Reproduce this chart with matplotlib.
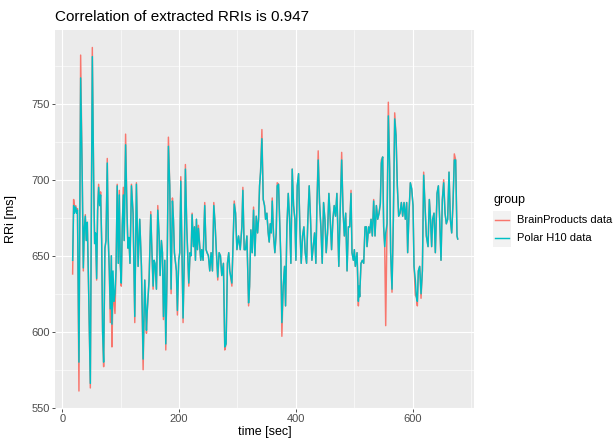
import matplotlib
matplotlib.use("Agg")
import matplotlib.pyplot as plt
from matplotlib.patches import Rectangle
from matplotlib.lines import Line2D

plt.rcParams['font.family'] = ['Liberation Sans', 'DejaVu Sans']

# Data: time (sec), RRI of both devices (ms)
time_sec = [
    17.7, 19.4, 21.0, 23.0, 24.5, 26.0, 28.5, 31.4, 34.2, 36.0, 37.7, 39.4, 41.0, 42.8, 44.5,
    48.0, 51.4, 53.7, 55.4, 57.0, 58.8, 60.5, 62.2, 64.0, 65.6, 67.4, 69.0, 70.8, 73.0, 74.8,
    77.0, 78.8, 80.5, 82.2, 84.0, 85.0, 86.8, 88.5, 90.2, 92.0, 94.0, 95.9, 97.6, 99.3, 101.0,
    102.7, 104.5, 106.0, 108.4, 110.7, 112.4, 114.0, 115.9, 118.4, 121.2, 124.1, 126.9, 129.8,
    132.6, 135.5, 138.4, 141.2, 144.1, 145.2, 148.6, 151.5, 153.2, 155.5, 157.2, 158.9, 161.2,
    163.5, 165.8, 167.5, 169.7, 171.5, 173.2, 175.5, 177.2, 179.5, 181.7, 184.0, 186.3, 188.6,
    190.3, 192.0, 195.4, 197.1, 199.4, 201.1, 202.9, 205.1, 206.8, 209.1, 210.8, 213.1, 214.8,
    216.6, 218.8, 220.5, 222.3, 224.5, 226.3, 228.0, 229.7, 231.4, 233.1, 235.4, 237.1, 238.8,
    241.1, 243.9, 246.2, 247.9, 250.2, 252.5, 254.8, 257.1, 259.4, 261.6, 263.9, 266.2, 268.5,
    270.8, 273.1, 275.9, 278.2, 280.5, 282.8, 285.0, 286.8, 290.4, 294.4, 296.7, 299.0, 301.8,
    304.7, 307.5, 309.2, 311.5, 313.8, 316.1, 319.0, 320.7, 322.9, 325.2, 327.5, 329.8, 332.1,
    334.4, 336.1, 337.8, 339.5, 341.8, 344.1, 346.3, 348.1, 350.3, 352.6, 354.3, 356.1, 357.8,
    359.5, 361.8, 364.0, 366.3, 368.0, 370.3, 372.0, 374.3, 376.0, 378.3, 380.6, 382.3, 384.6,
    386.9, 389.2, 391.4, 393.7, 396.0, 398.3, 400.0, 402.3, 404.6, 406.8, 409.1, 411.4, 413.7,
    416.0, 418.3, 420.5, 422.8, 425.1, 427.4, 429.7, 432.0, 434.2, 436.0, 438.2, 440.5, 442.8,
    445.1, 447.4, 449.7, 451.9, 454.2, 456.5, 458.8, 461.1, 463.4, 465.6, 467.9, 470.2, 473.5,
    476.1, 478.4, 480.7, 483.0, 485.3, 487.6, 489.9, 492.1, 494.4, 496.1, 498.4, 500.1, 501.8,
    504.7, 507.0, 508.1, 509.2, 511.5, 513.8, 516.1, 518.4, 520.7, 521.8, 524.7, 526.4, 528.7,
    530.9, 533.2, 535.5, 537.8, 540.1, 542.4, 544.6, 546.3, 548.6, 550.3, 552.1, 553.8, 556.1,
    558.3, 560.6, 562.3, 564.6, 566.9, 569.2, 571.5, 573.7, 576.0, 578.3, 580.6, 582.9, 585.2,
    587.4, 589.7, 591.4, 593.7, 596.0, 598.3, 600.6, 602.3, 604.6, 606.3, 608.0, 609.7, 612.0,
    614.3, 616.6, 618.8, 621.1, 623.4, 626.3, 628.5, 630.3, 632.5, 634.2, 636.5, 638.8, 641.7,
    644.0, 646.2, 648.5, 650.8, 653.1, 655.4, 657.6, 659.9, 662.2, 664.5, 666.8, 669.1, 671.3,
    673.6, 675.9, 677.1,
]

polar_h10 = [
    647, 683, 678, 682, 678, 680, 580, 767, 700, 642, 668, 676, 660, 672, 640,
    566, 781, 700, 658, 665, 635, 680, 695, 683, 690, 660, 600, 580, 655, 660,
    711, 660, 640, 615, 650, 605, 640, 620, 625, 640, 696, 645, 690, 645, 632,
    670, 690, 660, 723, 680, 655, 662, 645, 696, 678, 610, 697, 643,
    674, 643, 582, 634, 601, 612, 634, 677, 656, 630, 647, 645, 628,
    680, 663, 637, 660, 652, 610, 647, 592, 640, 722, 696, 628, 686,
    674, 652, 640, 614, 647, 652, 699, 647, 609, 652, 707, 669, 650,
    632, 652, 650, 677, 656, 669, 647, 674, 654, 668, 656, 647, 654,
    647, 683, 654, 652, 650, 640, 652, 640, 683, 671, 652, 636, 652,
    650, 637, 645, 590, 592, 645, 652, 640, 632, 684, 678, 654, 663,
    654, 669, 693, 654, 654, 663, 619, 630, 667, 652, 680, 650, 676,
    665, 674, 696, 705, 727, 687, 683, 674, 678, 665, 659, 671, 665,
    686, 663, 652, 665, 696, 697, 676, 647, 606, 630, 643, 617, 669,
    691, 674, 645, 707, 683, 674, 647, 696, 704, 669, 645, 663, 669,
    652, 645, 674, 696, 674, 647, 656, 665, 645, 683, 713, 685, 669,
    645, 685, 674, 652, 665, 691, 674, 654, 674, 683, 676, 691, 643,
    683, 713, 680, 663, 678, 640, 669, 669, 691, 652, 647, 654, 643,
    652, 620, 630, 623, 645, 647, 645, 669, 669, 656, 669, 665, 674,
    663, 686, 663, 683, 674, 678, 684, 711, 715, 669, 656, 665, 671,
    742, 707, 652, 628, 674, 740, 729, 696, 676, 678, 685, 676, 685,
    674, 685, 652, 678, 698, 694, 683, 643, 634, 623, 620, 640, 643,
    625, 640, 703, 683, 663, 656, 687, 676, 656, 674, 678, 652, 691,
    696, 674, 647, 687, 698, 678, 671, 674, 705, 674, 665, 685, 713,
    713, 663, 661,
]

brain_products = [
    638, 687, 680, 683, 678, 681, 561, 782, 700, 640, 668, 677, 660, 672, 640,
    563, 787, 700, 658, 665, 634, 680, 697, 683, 692, 660, 600, 577, 655, 660,
    714, 660, 640, 606, 650, 590, 628, 620, 612, 640, 697, 645, 693, 645, 630,
    670, 695, 660, 730, 680, 655, 662, 645, 697, 678, 606, 698, 643,
    674, 643, 575, 634, 599, 612, 634, 679, 656, 628, 647, 643, 628,
    683, 663, 637, 660, 652, 608, 647, 588, 640, 728, 696, 625, 688,
    674, 652, 640, 611, 647, 652, 702, 647, 606, 652, 710, 669, 650,
    630, 652, 650, 678, 656, 669, 647, 674, 654, 670, 656, 647, 654,
    647, 685, 654, 652, 650, 640, 652, 640, 685, 671, 652, 634, 652,
    650, 637, 645, 588, 592, 645, 652, 640, 630, 686, 678, 654, 663,
    654, 669, 695, 654, 654, 663, 617, 630, 667, 652, 682, 650, 676,
    665, 674, 696, 705, 733, 687, 683, 674, 678, 665, 659, 671, 665,
    688, 663, 652, 665, 698, 697, 676, 647, 597, 630, 643, 617, 669,
    691, 674, 645, 707, 683, 674, 647, 696, 704, 669, 645, 663, 669,
    652, 645, 674, 696, 674, 647, 656, 665, 645, 683, 719, 685, 669,
    645, 685, 674, 652, 665, 691, 674, 654, 674, 683, 676, 691, 643,
    683, 718, 680, 663, 678, 640, 669, 669, 693, 652, 647, 654, 643,
    652, 617, 630, 623, 645, 647, 645, 669, 669, 656, 669, 665, 674,
    663, 687, 663, 683, 674, 678, 685, 713, 715, 669, 656, 604, 671,
    751, 707, 652, 626, 674, 744, 729, 696, 676, 678, 685, 676, 685,
    674, 685, 652, 678, 698, 694, 683, 643, 624, 623, 617, 640, 643,
    622, 640, 705, 683, 663, 656, 687, 676, 656, 674, 678, 652, 691,
    696, 674, 647, 687, 700, 678, 671, 674, 705, 674, 665, 685, 717,
    713, 663, 661,
]

group_labels = ["BrainProducts data", "Polar H10 data"]
group_colors = ["#F8766D", "#00BFC4"]

W, H = 613, 440
fig = plt.figure(figsize=(W / 100, H / 100), dpi=100)
ax = fig.add_axes([55 / W, 1 - 408.5 / H, (474 - 55) / W, (408.5 - 30) / H])
ax.set_facecolor("#EBEBEB")

ax.plot(time_sec, brain_products, color=group_colors[0], lw=1.05)
ax.plot(time_sec, polar_h10, color=group_colors[1], lw=1.05)

ax.set_xlim(-12.5, 705)
ax.set_ylim(549.5, 798.5)
ax.set_xticks([0, 200, 400, 600])
ax.set_xticks([100, 300, 500, 700], minor=True)
ax.set_yticks([550, 600, 650, 700, 750])
ax.set_yticks([575, 625, 675, 725, 775], minor=True)
ax.grid(which="major", color="white", lw=0.85)
ax.grid(which="minor", color="white", lw=0.4)
ax.set_axisbelow(True)
for s in ax.spines.values():
    s.set_visible(False)
ax.tick_params(which="major", length=2.2, width=0.6, color="#333333",
               labelsize=8, labelcolor="#4D4D4D", pad=1.5)
ax.tick_params(which="minor", length=0)

fig.text(55 / W, 1 - 17 / H, "Correlation of extracted RRIs is 0.947",
         fontsize=11, va="center", ha="left")
fig.text((55 + 474) / 2 / W, 1 - 432 / H, "time [sec]", fontsize=9,
         va="center", ha="center")
fig.text(11 / W, 1 - 219 / H, "RRi [ms]", fontsize=9, rotation=90,
         va="center", ha="center")

# legend, drawn like ggplot's keys
fig.text(493 / W, 1 - 200 / H, "group", fontsize=9, va="center", ha="left")
for i, (lab, col) in enumerate(zip(group_labels, group_colors)):
    yc = 220 + 18 * i
    fig.add_artist(Rectangle((493 / W, 1 - (yc + 9) / H), 18 / W, 18 / H,
                             facecolor="#F2F2F2", edgecolor="none",
                             transform=fig.transFigure))
    fig.add_artist(Line2D([495 / W, 509 / W], [1 - yc / H, 1 - yc / H],
                          color=col, lw=1.05, transform=fig.transFigure))
    fig.text(517 / W, 1 - yc / H, lab, fontsize=8, va="center", ha="left")

fig.savefig("out.png", dpi=100)
